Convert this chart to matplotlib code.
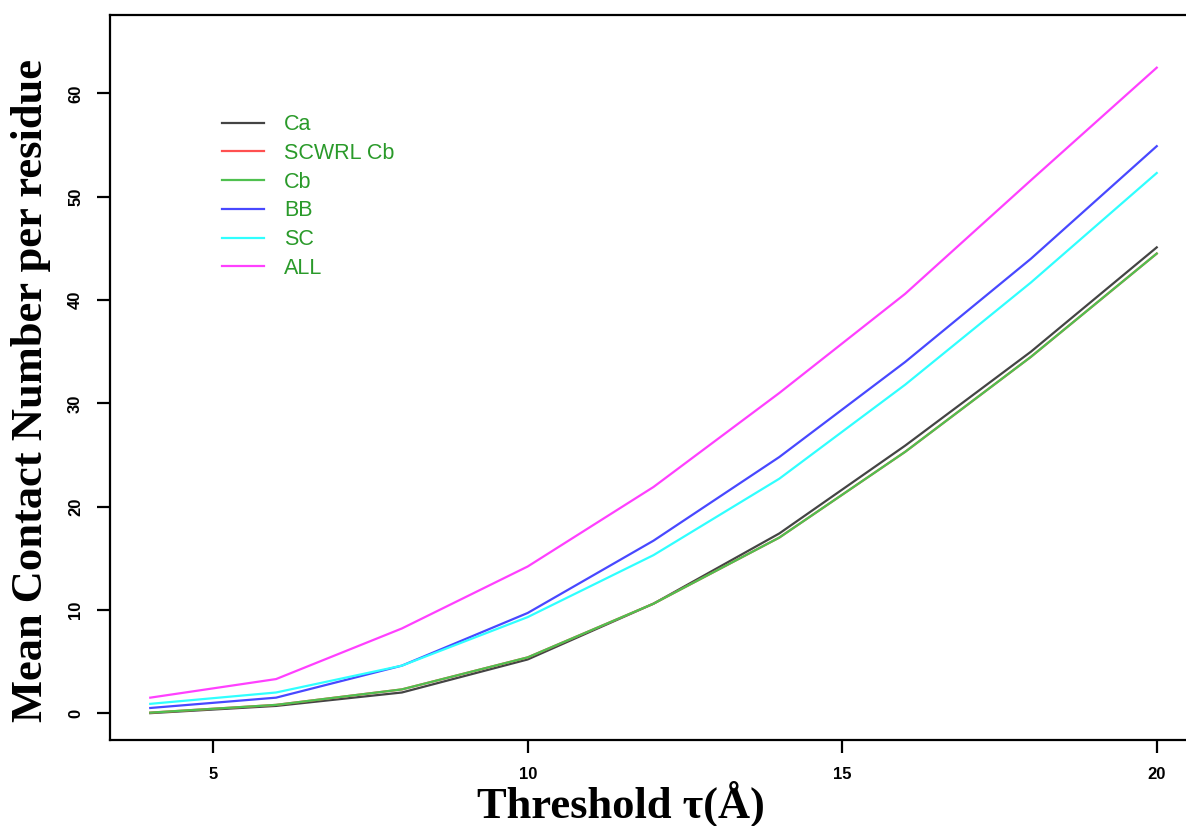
import matplotlib
matplotlib.use("Agg")
import matplotlib.pyplot as plt

# thresholds (Angstrom)
thresholds = [4, 6, 8, 10, 12, 14, 16, 18, 20]

ca = [0.0, 0.7, 2.0, 5.2, 10.6, 17.4, 25.9, 35.0, 45.1]
scwrl_cb = [0.05, 0.8, 2.3, 5.4, 10.6, 17.0, 25.3, 34.5, 44.5]
cb = [0.05, 0.8, 2.3, 5.4, 10.6, 17.0, 25.3, 34.5, 44.5]
bb = [0.5, 1.5, 4.6, 9.7, 16.7, 24.8, 34.0, 44.0, 54.9]
sc = [0.9, 2.0, 4.6, 9.3, 15.3, 22.7, 31.8, 41.7, 52.3]
all_atoms = [1.5, 3.3, 8.2, 14.2, 21.9, 31.0, 40.6, 51.6, 62.5]

labels = ["Ca", "SCWRL Cb", "Cb", "BB", "SC", "ALL"]
colors = ["#444444", "#ff5050", "#4fc04f", "#4848ff", "#30ffff", "#ff40ff"]

fig = plt.figure(figsize=(11.86, 8.26), dpi=100)
ax = fig.add_axes([110 / 1186, 1 - 740 / 826, 1087 / 1186, 725 / 826])

series = [ca, scwrl_cb, cb, bb, sc, all_atoms]
for vals, lab, col in zip(series, labels, colors):
    ax.plot(thresholds, vals, color=col, lw=1.6, label=lab)

ax.set_xlim(3.36, 20.64)
ax.set_ylim(-2.6, 67.6)
ax.set_xticks([5, 10, 15, 20])
ax.set_yticks([0, 10, 20, 30, 40, 50, 60])

for s in ["left", "bottom", "top"]:
    ax.spines[s].set_linewidth(1.6)
ax.spines["right"].set_visible(False)

ax.tick_params(axis="both", length=9.4, width=1.6, direction="out",
               labelsize=12, pad=10)
for t in ax.get_xticklabels() + ax.get_yticklabels():
    t.set_fontweight("bold")
    t.set_family("Liberation Sans")
for t in ax.get_yticklabels():
    t.set_rotation(90)
    t.set_va("center")

fig.text(621 / 1186, 1 - 818 / 826, "Threshold \u03c4(\u00c5)",
         family="Liberation Serif", fontweight="bold", fontsize=32,
         ha="center", va="baseline")
fig.text(31 / 1186, 1 - 390 / 826, "Mean Contact Number per residue",
         family="Liberation Serif", fontweight="bold", fontsize=32,
         ha="center", va="center", rotation=90)

leg = ax.legend(loc="upper left", bbox_to_anchor=(0.085, 0.890), frameon=False,
                prop={"family": "Liberation Sans", "size": 15.5},
                handlelength=1.95, labelspacing=0.36, handletextpad=0.95)
for t in leg.get_texts():
    t.set_color("#2a9a2a")

fig.savefig("out.png", dpi=100)
